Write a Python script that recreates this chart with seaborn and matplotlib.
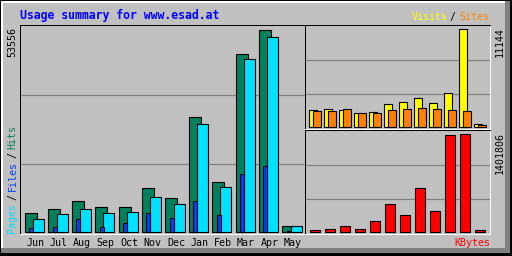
import matplotlib
matplotlib.use("Agg")
import matplotlib.pyplot as plt
from matplotlib.patches import Rectangle
import numpy as np
import seaborn as sns

months = ['Jun', 'Jul', 'Aug', 'Sep', 'Oct', 'Nov', 'Dec', 'Jan', 'Feb', 'Mar', 'Apr', 'May']
hits = [5020, 6260, 8190, 6790, 6790, 11810, 9170, 30570, 13395, 47210, 53556, 1770]
pages = [3620, 4940, 6260, 5205, 5470, 9430, 7580, 28720, 12075, 45890, 51700, 1770]
files = [1057, 1321, 3435, 1506, 2378, 5205, 3880, 8375, 4675, 15510, 17620, 264]
visits = [1967, 2081, 1967, 1592, 1706, 2615, 2843, 3297, 2729, 3866, 11144, 341]
sites = [1853, 1853, 2047, 1592, 1592, 1967, 2047, 2160, 2047, 1967, 1853, 227]
kbytes = [28600, 42900, 85800, 42900, 157300, 400500, 243200, 629400, 300400, 1387500, 1401806, 28600]

BG = '#c0c0c0'
C_HITS, C_FILES, C_PAGES = '#00805c', '#0040ff', '#00e0ff'
C_VIS, C_SITES, C_KB = '#ffff00', '#ff8000', '#ff0000'
GRID = '#808080'
PX = 0.72  # one pixel in points at dpi 100

sns.set_style("white")
plt.rcParams['font.family'] = ['DejaVu Sans Mono', 'DejaVu Sans']

W, H = 512, 256
fig = plt.figure(figsize=(5.12, 2.56), dpi=100, facecolor=BG)


def fx(p):
    return p / W


def fy(p):
    return 1 - p / H


def make_ax(x0, y0, x1, y1):
    ax = fig.add_axes([fx(x0), fy(y1), (x1 - x0) / W, (y1 - y0) / H])
    ax.set_facecolor(BG)
    for s in ['left', 'top']:
        ax.spines[s].set_color('black')
        ax.spines[s].set_linewidth(PX)
    for s in ['right', 'bottom']:
        ax.spines[s].set_color('white')
        ax.spines[s].set_linewidth(PX)
    ax.set_yticks([])
    return ax


def grid_thirds(ax):
    lo, hi = ax.get_ylim()
    for f in (1 / 3, 2 / 3):
        ax.axhline(lo + (hi - lo) * f, color=GRID, lw=PX * 1.2, zorder=0)


def bars(ax, pos, vals, width, color):
    sns.barplot(x=pos, y=vals, native_scale=True, width=width, color=color,
                saturation=1, edgecolor='black', linewidth=PX * 1.1,
                errorbar=None, ax=ax, zorder=3)


idx = np.arange(12)

# main panel: hits / pages / files
ax = make_ax(20, 25, 304.5, 234)
pxm = 23.4
k = max(hits) / 203.0
ax.set_ylim(-1.7 * k, max(hits) + 4.7 * k)
bars(ax, idx + 0.47, hits, 0.513, C_HITS)
bars(ax, idx + 0.803, pages, 0.47, C_PAGES)
bars(ax, idx + 0.483, files, 0.171, C_FILES)
ax.set_xlim(0, 284.5 / pxm)
grid_thirds(ax)
ax.set_xticks(idx + 0.662, months)
ax.tick_params(axis='x', length=0, pad=3.2, labelsize=7.2, colors='black')
ax.set_ylabel('')
ax.set_xlabel('')

# top right: visits / sites
ax2 = make_ax(305, 25, 490, 129)
k2 = max(visits) / 98.0
ax2.set_ylim(-1.7 * k2, max(visits) + 4.3 * k2)
bars(ax2, idx + 0.523, visits, 0.513, C_VIS)
bars(ax2, idx + 0.81, sites, 0.513, C_SITES)
ax2.set_xlim(0, 185 / 15)
grid_thirds(ax2)
ax2.set_xticks([])
ax2.set_ylabel('')
ax2.set_xlabel('')

# bottom right: kbytes
ax3 = make_ax(305, 130, 490, 234)
k3 = max(kbytes) / 98.0
ax3.set_ylim(-1.7 * k3, max(kbytes) + 4.3 * k3)
bars(ax3, idx + 0.667, kbytes, 0.667, C_KB)
ax3.set_xlim(0, 185 / 15)
grid_thirds(ax3)
ax3.set_xticks([])
ax3.set_ylabel('')
ax3.set_xlabel('')

# texts
fs = 7.2
fig.text(fx(20), fy(15), 'Usage summary for www.esad.at', color='#0000ff',
         fontsize=8.3, fontweight='bold', ha='left', va='center')
fig.text(fx(412), fy(17), 'Visits', color=C_VIS, fontsize=fs, ha='left', va='center')
fig.text(fx(449), fy(17), '/', color='black', fontsize=fs, ha='left', va='center')
fig.text(fx(459), fy(17), 'Sites', color=C_SITES, fontsize=fs, ha='left', va='center')
fig.text(fx(490), fy(243), 'KBytes', color=C_KB, fontsize=fs, ha='right', va='center')

fig.text(fx(12.5), fy(27), str(max(hits)), color='black', fontsize=fs,
         rotation=90, ha='center', va='top')
fig.text(fx(500), fy(27), str(max(visits)), color='black', fontsize=fs,
         rotation=90, ha='center', va='top')
fig.text(fx(500), fy(132), str(max(kbytes)), color='black', fontsize=fs,
         rotation=90, ha='center', va='top')

yb = 233
for txt, col in [('Pages', C_PAGES), ('/', 'black'), ('Files', C_FILES),
                 ('/', 'black'), ('Hits', C_HITS)]:
    fig.text(fx(12.5), fy(yb), txt, color=col, fontsize=fs, rotation=90,
             ha='center', va='bottom')
    yb -= len(txt) * 6 + 3

# bevel frame
def rect(x0, y0, x1, y1, color):
    fig.add_artist(Rectangle((fx(x0), fy(y1)), (x1 - x0) / W, (y1 - y0) / H,
                             transform=fig.transFigure, facecolor=color,
                             edgecolor='none', zorder=10))

rect(0, 248, 512, 256, '#808080')
rect(505, 0, 512, 256, '#808080')
rect(1, 1, 505, 3, 'white')
rect(1, 1, 3, 248, 'white')
rect(0, 253, 512, 256, 'black')
rect(510, 0, 512, 256, 'black')
rect(0, 0, 512, 1, 'black')
rect(0, 0, 1, 256, 'black')

fig.savefig('out.png', dpi=100, facecolor=BG)
